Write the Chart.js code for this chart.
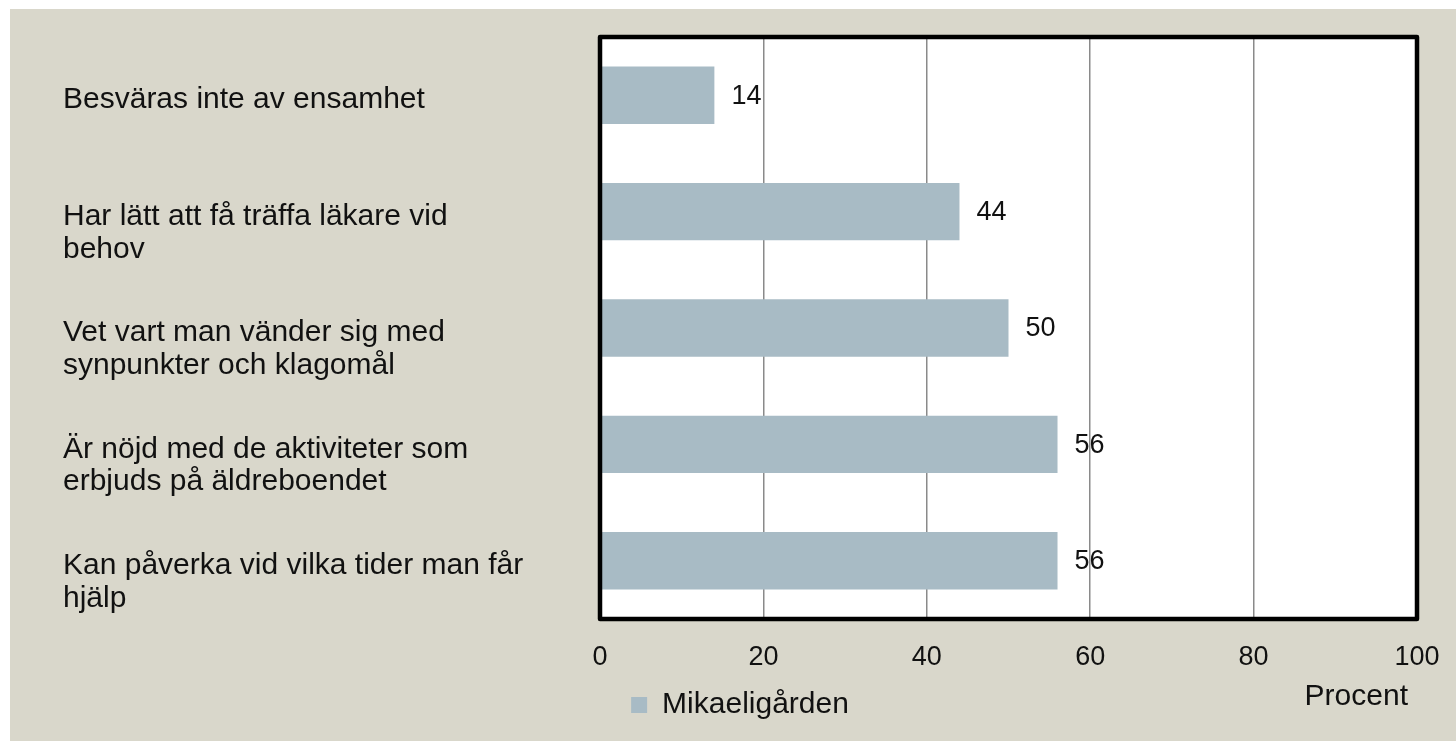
<!DOCTYPE html>
<html>
<head>
<meta charset="utf-8">
<script src="https://cdn.jsdelivr.net/npm/chart.js@4"></script>
<style>
  html, body { margin: 0; padding: 0; background: #ffffff; width: 1456px; height: 741px; overflow: hidden; }
  #wrap { position: absolute; left: 10px; top: 9px; width: 1446px; height: 732px; background: #d9d7cb; }
</style>
</head>
<body>
<div id="wrap"><canvas id="c"></canvas></div>
<script>
// ---- data ----
const categories = [
  ["Besväras inte av ensamhet"],
  ["", "Har lätt att få träffa läkare vid", "behov"],
  ["", "Vet vart man vänder sig med", "synpunkter och klagomål"],
  ["", "Är nöjd med de aktiviteter som", "erbjuds på äldreboendet"],
  ["", "Kan påverka vid vilka tider man får", "hjälp"]
];
const seriesName = "Mikaeligården";
const values = [14, 44, 50, 56, 56];
const xTicks = [0, 20, 40, 60, 80, 100];
const xAxisTitle = "Procent";

// ---- styles ----
const FONT = "'Liberation Sans', Arial, sans-serif";
const barColor = "#a8bbc5";

const plotBackground = {
  id: 'plotBackground',
  beforeDraw(chart) {
    const {ctx, chartArea: a} = chart;
    ctx.save();
    ctx.fillStyle = "#ffffff";
    ctx.fillRect(a.left, a.top, a.right - a.left, a.bottom - a.top);
    ctx.restore();
  }
};

const valueLabels = {
  id: 'valueLabels',
  afterDatasetsDraw(chart) {
    const ctx = chart.ctx;
    const meta = chart.getDatasetMeta(0);
    ctx.save();
    ctx.font = "27px " + FONT;
    ctx.fillStyle = "#111111";
    ctx.textAlign = "left";
    ctx.textBaseline = "middle";
    meta.data.forEach((bar, i) => {
      ctx.fillText(String(chart.data.datasets[0].data[i]), bar.x + 17, bar.y + 1);
    });
    ctx.restore();
  }
};

const areaBorder = {
  id: 'areaBorder',
  afterDraw(chart) {
    const {ctx, chartArea: a} = chart;
    ctx.save();
    ctx.strokeStyle = "#000000";
    ctx.lineWidth = 4.5;
    ctx.lineJoin = "round";
    ctx.strokeRect(a.left, a.top, a.right - a.left, a.bottom - a.top);
    // axis title
    ctx.font = "30px " + FONT;
    ctx.fillStyle = "#111111";
    ctx.textAlign = "right";
    ctx.textBaseline = "middle";
    ctx.fillText(xAxisTitle, a.right - 9, a.bottom + 78);
    ctx.restore();
  }
};

new Chart(document.getElementById('c'), {
  type: 'bar',
  data: {
    labels: categories,
    datasets: [{
      label: seriesName,
      data: values,
      backgroundColor: barColor,
      borderWidth: 0,
      barPercentage: 0.493,
      categoryPercentage: 1.0
    }]
  },
  options: {
    indexAxis: 'y',
    responsive: true,
    maintainAspectRatio: false,
    animation: false,
    layout: { padding: { left: 53, right: 39, top: 28, bottom: 11 } },
    scales: {
      x: {
        min: 0, max: 100,
        afterBuildTicks(scale) { scale.ticks = xTicks.map(v => ({ value: v })); },
        afterFit(scale) { scale.height = 61; scale.paddingLeft = 0; scale.paddingRight = 0; },
        grid: { color: "#8a8a8a", lineWidth: 1.5, drawTicks: false },
        border: { display: false },
        ticks: { color: "#111111", padding: 22, font: { family: FONT, size: 27 } }
      },
      y: {
        afterFit(scale) { scale.width = 537; scale.paddingTop = 0; scale.paddingBottom = 0; },
        grid: { display: false, drawTicks: false },
        border: { display: false },
        ticks: {
          crossAlign: 'far',
          labelOffset: 5,
          color: "#111111",
          font: { family: FONT, size: 30, lineHeight: 1.09 }
        }
      }
    },
    plugins: {
      tooltip: { enabled: false },
      legend: {
        position: 'bottom',
        labels: {
          color: "#111111",
          boxWidth: 16, boxHeight: 16,
          font: { family: FONT, size: 30 }
        }
      }
    }
  },
  plugins: [plotBackground, valueLabels, areaBorder]
});
</script>
</body>
</html>
